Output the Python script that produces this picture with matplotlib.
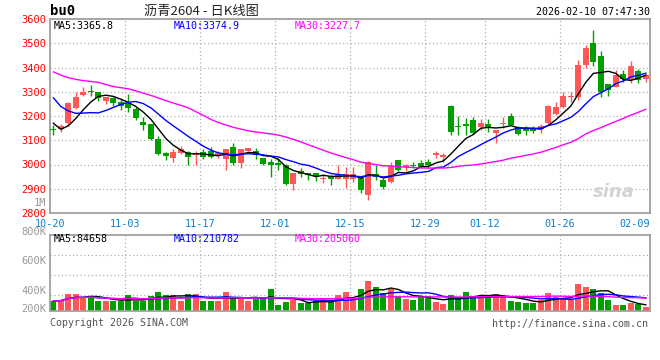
import matplotlib
matplotlib.use('Agg')
import matplotlib.pyplot as plt
import numpy as np
import pandas as pd

# daily bars, 10-20 .. 02-10
opens = [3146, 3146, 3173, 3232, 3285, 3302, 3297, 3263, 3274, 3259,
         3252, 3229, 3177, 3166, 3105, 3048, 3025, 3048, 3051, 3038,
         3051, 3055, 3041, 3021, 3072, 3008, 3057, 3055, 3027, 3011,
         3007, 3000, 2918, 2973, 2966, 2966, 2939, 2953, 2942, 2939,
         2939, 2946, 2874, 2962, 2936, 2928, 3018, 2991, 3000, 3007,
         3011, 3041, 3030, 3243, 3160, 3166, 3184, 3154, 3169, 3130,
         3166, 3200, 3154, 3146, 3146, 3146, 3173, 3207, 3239, 3277,
         3280, 3409, 3501, 3446, 3331, 3320, 3375, 3348, 3384, 3354]
highs = [3164, 3166, 3256, 3300, 3318, 3327, 3299, 3278, 3279, 3273,
         3292, 3239, 3194, 3168, 3116, 3050, 3062, 3075, 3057, 3057,
         3064, 3071, 3055, 3065, 3089, 3062, 3070, 3068, 3028, 3021,
         3025, 3001, 2965, 2987, 2967, 2967, 2959, 2955, 3000, 2989,
         2989, 2953, 3014, 3000, 2943, 3011, 3019, 3003, 3011, 3017,
         3021, 3057, 3048, 3244, 3198, 3191, 3194, 3188, 3188, 3142,
         3194, 3211, 3157, 3160, 3157, 3166, 3245, 3256, 3300, 3300,
         3432, 3491, 3555, 3470, 3333, 3388, 3388, 3427, 3395, 3375]
lows = [3123, 3136, 3157, 3228, 3283, 3282, 3262, 3249, 3243, 3225,
        3215, 3184, 3143, 3102, 3038, 3017, 3011, 3044, 2997, 3000,
        3021, 3028, 3027, 2976, 2997, 2987, 3055, 3021, 3000, 2950,
        2977, 2914, 2894, 2950, 2935, 2932, 2925, 2916, 2940, 2902,
        2929, 2884, 2853, 2935, 2898, 2925, 2973, 2973, 2987, 2987,
        2987, 3027, 3011, 3120, 3120, 3120, 3126, 3143, 3136, 3089,
        3150, 3161, 3123, 3123, 3130, 3130, 3166, 3205, 3235, 3259,
        3266, 3398, 3406, 3279, 3282, 3318, 3341, 3337, 3337, 3341]
closes = [3141, 3160, 3252, 3277, 3301, 3299, 3275, 3277, 3252, 3243,
          3232, 3191, 3161, 3106, 3044, 3034, 3051, 3062, 3030, 3044,
          3030, 3030, 3048, 3062, 3008, 3062, 3068, 3041, 3003, 2996,
          2996, 2918, 2963, 2959, 2957, 2953, 2946, 2939, 2962, 2962,
          2962, 2894, 3011, 2948, 2908, 2993, 2976, 3000, 2993, 2991,
          3000, 3048, 3041, 3136, 3154, 3158, 3130, 3170, 3153, 3142,
          3172, 3164, 3126, 3140, 3139, 3160, 3243, 3239, 3282, 3282,
          3412, 3481, 3422, 3300, 3307, 3368, 3354, 3405, 3348, 3368]
# closes before 10-20, only feed the moving averages
prior_closes = [3560, 3575, 3480, 3460, 3400, 3385, 3540, 3515, 3380, 3365,
                3455, 3440, 3385, 3365, 3350, 3360, 3340, 3350, 3505, 3500,
                3520, 3432, 3377, 3290, 3281, 3285, 3177, 3127, 3120]
# volume, thousands
volumes = [295, 305, 368, 368, 337, 347, 295, 295, 295, 295,
           358, 295, 295, 347, 390, 358, 358, 295, 368, 368,
           295, 295, 295, 390, 337, 337, 295, 316, 337, 421,
           253, 284, 305, 274, 274, 295, 305, 284, 358, 390,
           326, 421, 505, 442, 379, 421, 347, 316, 305, 347,
           347, 284, 263, 358, 337, 390, 347, 347, 347, 368,
           347, 295, 284, 274, 274, 305, 379, 337, 326, 305,
           474, 442, 421, 379, 305, 253, 253, 274, 263, 232]

date_labels = ['10-20', '11-03', '11-17', '12-01', '12-15', '12-29', '01-12', '01-26', '02-09']
date_pos = [0, 10, 20, 30, 40, 50, 58, 68, 78]
price_ticks = [3600, 3500, 3400, 3300, 3200, 3100, 3000, 2900, 2800]
vol_labels = ['1M', '800K', '600K', '400K', '200K']
price_ma_text = ['MA5:3365.8', 'MA10:3374.9', 'MA30:3227.7']
vol_ma_text = ['MA5:84658', 'MA10:210782', 'MA30:205060']

RED = '#ff5757'
GREEN = '#009f00'
GRID = '#b0b0b0'
MONO = 'DejaVu Sans Mono'
MA_COLORS = ['black', '#0000ff', '#ff00ff']

n = len(closes)
xs = np.arange(n) + 0.45
allc = pd.Series(prior_closes + closes, dtype=float)
k = len(prior_closes)
ma5 = allc.rolling(5).mean().values[k:]
ma10 = allc.rolling(10).mean().values[k:]
ma30 = allc.rolling(30).mean().values[k:]
vs = pd.Series(volumes, dtype=float)
vma5 = vs.rolling(5, min_periods=1).mean().values
vma10 = vs.rolling(10, min_periods=1).mean().values
vma30 = vs.rolling(30, min_periods=1).mean().values

W, H = 660, 360
fig = plt.figure(figsize=(W / 100, H / 100), dpi=100)
ax = fig.add_axes([50 / W, 1 - 213 / H, 600 / W, 194 / H])
vax = fig.add_axes([50 / W, 1 - 311 / H, 600 / W, 76.3 / H])

for a in (ax, vax):
    a.set_xlim(0, n)
    for s in a.spines.values():
        s.set_color('#a0a0a0')
        s.set_linewidth(1.3)
    for p in date_pos[1:-1]:
        a.axvline(p, color=GRID, lw=0.9, ls=(0, (1, 2)), zorder=0)

# price panel
ax.set_ylim(2800, 3600)
for t in price_ticks[1:-1]:
    ax.axhline(t, color=GRID, lw=0.9, ls=(0, (1, 2)), zorder=0)
ax.set_yticks(price_ticks)
ax.set_yticklabels([str(t) for t in price_ticks], color='red', family=MONO, fontsize=7.5)
ax.set_xticks(date_pos)
ax.set_xticklabels(date_labels, color='#0a80d0', family=MONO, fontsize=7.3)
ax.tick_params(length=0, pad=3)
ax.tick_params(axis='x', pad=4)

for i in range(n):
    up = closes[i] >= opens[i]
    c = RED if up else GREEN
    ax.vlines(xs[i], lows[i], highs[i], color=c, lw=1, zorder=2)
    body = max(abs(closes[i] - opens[i]), 2)
    ax.bar(xs[i], body, bottom=min(opens[i], closes[i]), width=0.78, color=c, zorder=3)

for m, col in zip((ma5, ma10, ma30), MA_COLORS):
    ax.plot(xs, m, color=col, lw=1, zorder=4)

for txt, col, px in zip(price_ma_text, MA_COLORS, [4, 124, 245]):
    ax.text(px / 600, 0.965, txt, transform=ax.transAxes, color=col,
            family=MONO, fontsize=7.2, va='center')
ax.text(0.975, 0.11, 'sina', transform=ax.transAxes, color='#d4d4d4', fontsize=13,
        fontweight='bold', style='italic', ha='right', va='center', zorder=1)

# volume panel
vax.set_ylim(190, 1000)
for f in (0.21, 0.472, 0.734):
    vax.axhline(190 + f * 810, color=GRID, lw=0.9, ls=(0, (1, 2)), zorder=0)
vcol = [RED if closes[i] >= opens[i] else GREEN for i in range(n)]
vax.bar(xs, volumes, width=0.8, color=vcol, zorder=2)
for m, col in zip((vma5, vma10, vma30), MA_COLORS):
    vax.plot(xs, m, color=col, lw=1, zorder=3)
vax.set_xticks([])
vax.set_yticks([])
for txt, col, px in zip(vol_ma_text, MA_COLORS, [4, 124, 245]):
    vax.text(px / 600, 0.945, txt, transform=vax.transAxes, color=col,
             family=MONO, fontsize=7.2, va='center')
for lab, py in zip(vol_labels, [203, 232, 261, 291, 309]):
    fig.text(46 / W, 1 - py / H, lab, color='#999999', family=MONO, fontsize=7.5,
             ha='right', va='center')

# header and footer
fig.text(50 / W, 1 - 11 / H, 'bu0', color='black', family=MONO, fontsize=10,
         fontweight='bold', va='center')
fig.text(201 / W, 1 - 11 / H, '沥青2604 - 日K线图', color='#222222',
         family=['Noto Sans CJK SC', 'DejaVu Sans'], fontsize=9.5, ha='center', va='center')
fig.text(650 / W, 1 - 12 / H, '2026-02-10 07:47:30', color='black', family=MONO,
         fontsize=7.2, ha='right', va='center')
fig.text(50 / W, 1 - 323 / H, 'Copyright 2026 SINA.COM', color='#555555', family=MONO,
         fontsize=7.2, va='center')
fig.text(648 / W, 1 - 324 / H, 'http://finance.sina.com.cn', color='#555555', family=MONO,
         fontsize=7.2, ha='right', va='center')

fig.savefig('out.png', dpi=100, facecolor='white')
